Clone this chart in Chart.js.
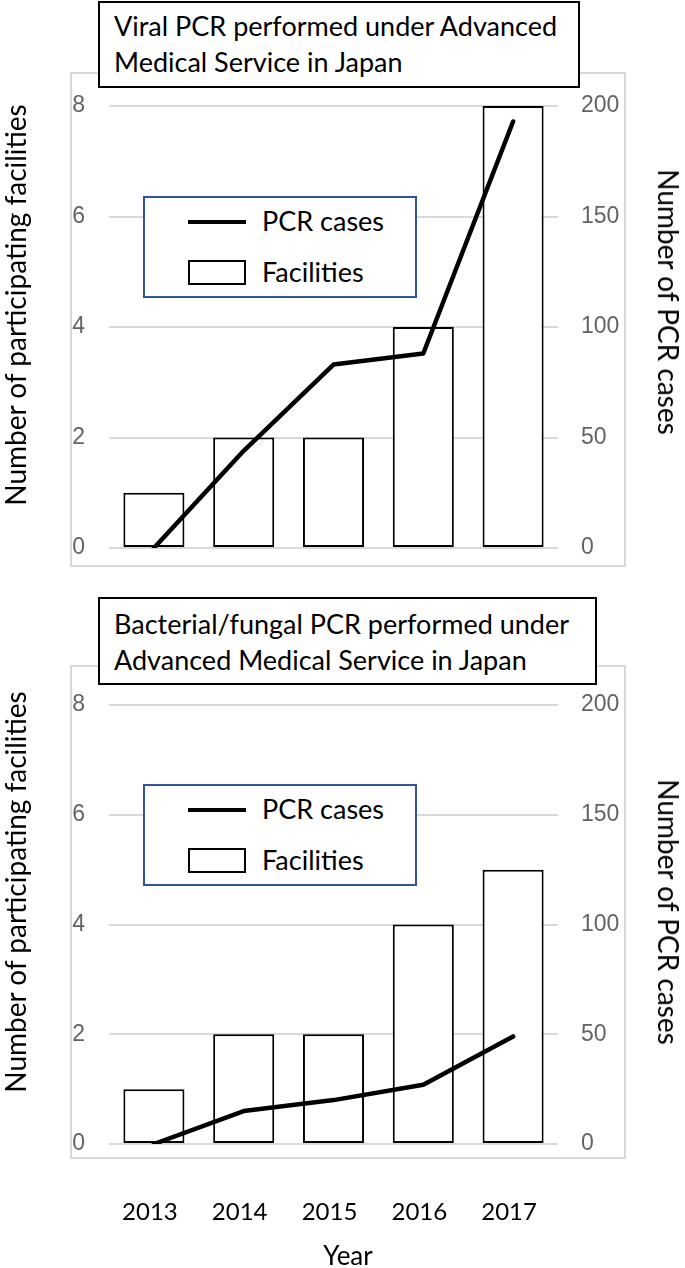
<!DOCTYPE html>
<html>
<head>
<meta charset="utf-8">
<script src="https://cdn.jsdelivr.net/npm/chart.js@4.4.1/dist/chart.umd.min.js"></script>
<style>
  html, body { margin: 0; padding: 0; background: #fff; overflow: hidden; }
  #wrap { position: relative; width: 685px; height: 1268px; overflow: hidden; font-family: Lato, "Open Sans", sans-serif; color: #000; }
  .frame { position: absolute; border: 2px solid #d9d9d9; box-sizing: border-box; }
  canvas { position: absolute; left: 0; }
  .titlebox { position: absolute; border: 2px solid #000; background: #fff; box-sizing: border-box; }
  .titletxt { position: absolute; left: 114px; font-size: 27px; line-height: 35.5px; white-space: nowrap; }
  .legend { position: absolute; left: 143px; width: 274px; height: 102px; border: 2px solid #2f5597; background: #fff; box-sizing: border-box; }
  .lg-line { position: absolute; left: 188px; width: 58px; height: 4px; background: #000; }
  .lg-box { position: absolute; left: 188px; width: 58px; height: 25px; border: 2px solid #000; box-sizing: border-box; background: #fff; }
  .lg-txt { position: absolute; left: 262px; font-size: 27px; line-height: 32px; height: 32px; white-space: nowrap; }
  .axtitle { position: absolute; font-size: 28px; line-height: 32px; white-space: nowrap; transform-origin: center center; }
</style>
</head>
<body>
<div id="wrap">
  <div class="frame" style="left:70px;top:72px;width:556px;height:495px"></div>
  <div class="frame" style="left:70px;top:665px;width:556px;height:494px"></div>

  <canvas id="chart1" width="685" height="590" style="top:0"></canvas>
  <canvas id="chart2" width="685" height="678" style="top:590px"></canvas>

  <!-- top chart overlays -->
  <div class="titlebox" style="left:98px;top:1px;width:482px;height:87px"></div>
  <div class="titletxt" style="top:8px">Viral PCR performed under Advanced<br>Medical Service in Japan</div>
  <div class="legend" style="top:196px"></div>
  <div class="lg-line" style="top:220px"></div>
  <div class="lg-txt" style="top:205px">PCR cases</div>
  <div class="lg-box" style="top:260px"></div>
  <div class="lg-txt" style="top:256px">Facilities</div>
  <div class="axtitle" id="yl1">Number of participating facilities</div>
  <div class="axtitle" id="yr1">Number of PCR cases</div>

  <!-- bottom chart overlays -->
  <div class="titlebox" style="left:98px;top:597px;width:499px;height:88px"></div>
  <div class="titletxt" style="top:606px">Bacterial/fungal PCR performed under<br>Advanced Medical Service in Japan</div>
  <div class="legend" style="top:784px"></div>
  <div class="lg-line" style="top:808px"></div>
  <div class="lg-txt" style="top:793px">PCR cases</div>
  <div class="lg-box" style="top:848px"></div>
  <div class="lg-txt" style="top:844px">Facilities</div>
  <div class="axtitle" id="yl2">Number of participating facilities</div>
  <div class="axtitle" id="yr2">Number of PCR cases</div>
  <div class="axtitle" id="xt2" style="font-size:26px">Year</div>
</div>

<script>
// data
const years = ["2013", "2014", "2015", "2016", "2017"];
const viralFacilities = [1, 2, 2, 4, 8];
const viralCases = [0, 44, 83, 88, 193];
const bactFacilities = [1, 2, 2, 4, 5];
const bactCases = [0, 15, 20, 27, 49];

const tickColor = "#636363";
const gridColor = "#d9d9d9";

function hacerGrafico(id, facilities, cases, showYears, padTop, xHeight) {
  const ctx = document.getElementById(id).getContext("2d");
  return new Chart(ctx, {
    type: "bar",
    data: {
      labels: years,
      datasets: [
        {
          type: "line",
          label: "PCR cases",
          data: cases,
          yAxisID: "y1",
          borderColor: "#000",
          borderWidth: 4.5,
          pointRadius: 0,
          tension: 0,
          borderCapStyle: "round",
          borderJoinStyle: "round",
          order: 0
        },
        {
          label: "Facilities",
          data: facilities,
          yAxisID: "y",
          backgroundColor: "#fff",
          borderColor: "#000",
          borderWidth: 2,
          borderSkipped: false,
          barPercentage: 0.68,
          categoryPercentage: 1,
          order: 1
        }
      ]
    },
    options: {
      responsive: false,
      animation: false,
      layout: { padding: { top: padTop, left: 0, right: 0, bottom: 0 } },
      plugins: { legend: { display: false }, tooltip: { enabled: false } },
      scales: {
        x: {
          grid: { display: false },
          border: { display: false },
          ticks: {
            display: showYears,
            color: "#000",
            font: { family: "Lato", size: 24 },
            padding: 46,
            labelOffset: -4
          },
          afterFit: function (s) { s.height = xHeight; }
        },
        y: {
          position: "left",
          min: 0,
          max: 8,
          ticks: { stepSize: 2, color: tickColor, font: { family: "Liberation Sans", size: 23 }, padding: 24 },
          grid: { color: gridColor, lineWidth: 2, drawTicks: false },
          border: { display: false },
          afterFit: function (s) { s.width = 109; }
        },
        y1: {
          position: "right",
          min: 0,
          max: 200,
          ticks: { stepSize: 50, color: tickColor, font: { family: "Liberation Sans", size: 23 }, padding: 23 },
          grid: { drawOnChartArea: false, drawTicks: false },
          border: { display: false },
          afterFit: function (s) { s.width = 127; }
        }
      }
    }
  });
}

// axis titles placed by their centre
function colocar(id, cx, cy, rot) {
  const el = document.getElementById(id);
  el.style.left = cx + "px";
  el.style.top = cy + "px";
  el.style.transform = "translate(-50%, -50%) rotate(" + rot + "deg)";
}

colocar("yl1", 15, 305, -90);
colocar("yr1", 669, 302, 90);
colocar("yl2", 15, 892, -90);
colocar("yr2", 669, 912, 90);
colocar("xt2", 348, 1255, 0);

document.fonts.ready.then(function () {
  window.chart1 = hacerGrafico("chart1", viralFacilities, viralCases, false, 106, 42);
  window.chart2 = hacerGrafico("chart2", bactFacilities, bactCases, true, 115, 124);
});
</script>
</body>
</html>
